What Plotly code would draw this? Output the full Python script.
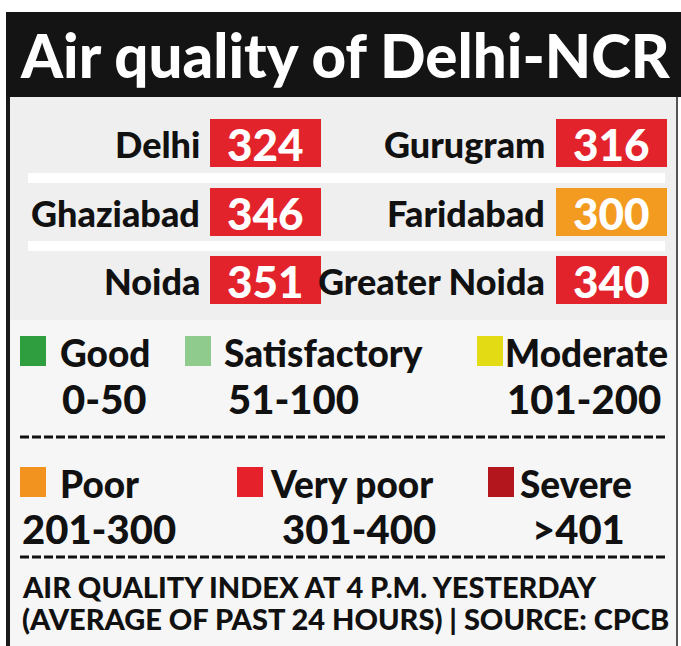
import plotly.graph_objects as go

# ---------------- data ----------------
title_text = "Air quality of Delhi-NCR"
cities = ["Delhi", "Gurugram", "Ghaziabad", "Faridabad", "Noida", "Greater Noida"]
aqi = [324, 316, 346, 300, 351, 340]

cat_names = ["Good", "Satisfactory", "Moderate", "Poor", "Very poor", "Severe"]
cat_ranges = ["0-50", "51-100", "101-200", "201-300", "301-400", ">401"]
cat_upper = [50, 100, 200, 300, 400, 10000]
cat_colors = ["#2f9e3f", "#8fcb8c", "#e3dc14", "#f2921f", "#e5212b", "#b3161d"]

footer_lines = ["AIR QUALITY INDEX AT 4 P.M. YESTERDAY",
                "(AVERAGE OF PAST 24 HOURS) | SOURCE: CPCB"]

# ---------------- layout helpers ----------------
W, H = 681, 646
FONT = "Lato, Roboto, sans-serif"
box_red = "#e3232b"
box_orange = "#f39b20"


def color_for(v):
    for up, c, n in zip(cat_upper, cat_colors, cat_names):
        if v <= up:
            return box_orange if n == "Poor" else (box_red if n == "Very poor" else c)
    return cat_colors[-1]


def f(size, color="#111111"):
    return dict(family=FONT, size=size, color=color, weight=900)


shapes = []
annos = []

# outer frame / backgrounds
shapes.append(dict(type="rect", x0=10, x1=677, y0=97, y1=H, fillcolor="#efefef", line_width=0, layer="below"))
shapes.append(dict(type="rect", x0=10, x1=677, y0=320, y1=H, fillcolor="#f6f6f6", line_width=0, layer="below"))
shapes.append(dict(type="rect", x0=6, x1=W, y0=12, y1=97, fillcolor="#141414", line_width=0))
shapes.append(dict(type="rect", x0=6, x1=10, y0=97, y1=H, fillcolor="#1a1a1a", line_width=0))
shapes.append(dict(type="rect", x0=676, x1=678, y0=97, y1=H, fillcolor="#555555", line_width=0))

annos.append(dict(x=345, y=55, text=title_text, showarrow=False,
                  xanchor="center", yanchor="middle", font=f(60, "white")))

# separators between city rows
row_centers = [143, 212, 280]
for yc in [178, 246]:
    shapes.append(dict(type="rect", x0=28, x1=665, y0=yc - 5, y1=yc + 5, fillcolor="white", line_width=0))

# city rows
col_label_right = [202, 547]
col_box = [(210, 321), (556, 667)]
for i, (city, v) in enumerate(zip(cities, aqi)):
    r, c = divmod(i, 2)
    yc = row_centers[r]
    bx0, bx1 = col_box[c]
    shapes.append(dict(type="rect", x0=bx0, x1=bx1, y0=yc - 24, y1=yc + 24,
                       fillcolor=color_for(v), line_width=0))
    annos.append(dict(x=(bx0 + bx1) / 2, y=yc + 1, text=str(v), showarrow=False,
                      xanchor="center", yanchor="middle", font=f(44, "white")))
    annos.append(dict(x=col_label_right[c], y=yc + 1, text=city, showarrow=False,
                      xanchor="right", yanchor="middle", font=f(36)))

# legend
sq_x = [20, 185, 477, 20, 237, 488]
txt_x = [58, 222, 503, 58, 268, 518]
rng_x = [60, 226, 505, 20, 280, 530]
row_y = [351, 482]
rng_y = [399, 529]
for i in range(6):
    r = i // 3
    yc = row_y[r]
    shapes.append(dict(type="rect", x0=sq_x[i], x1=sq_x[i] + 26, y0=yc - 15, y1=yc + 15,
                       fillcolor=cat_colors[i], line_width=0))
    annos.append(dict(x=txt_x[i], y=yc + 1, text=cat_names[i], showarrow=False,
                      xanchor="left", yanchor="middle", font=f(37)))
    annos.append(dict(x=rng_x[i], y=rng_y[r], text=cat_ranges[i], showarrow=False,
                      xanchor="left", yanchor="middle", font=f(40)))

for yd in [437, 557]:
    shapes.append(dict(type="line", x0=20, x1=667, y0=yd, y1=yd,
                       line=dict(color="#111111", width=3, dash="9px,3px")))

# footer
for k, t in enumerate(footer_lines):
    annos.append(dict(x=20, y=586 + k * 32, text=t, showarrow=False,
                      xanchor="left", yanchor="middle", font=f(29)))

fig = go.Figure()
fig.add_trace(go.Scatter(x=[0, W], y=[0, H], mode="markers", marker=dict(opacity=0),
                         hoverinfo="skip", showlegend=False))
fig.update_layout(
    width=W, height=H, margin=dict(l=0, r=0, t=0, b=0),
    paper_bgcolor="white", plot_bgcolor="white",
    xaxis=dict(range=[0, W], visible=False, fixedrange=True),
    yaxis=dict(range=[H, 0], visible=False, fixedrange=True),
    shapes=shapes, annotations=annos, showlegend=False,
)
fig.write_html("out.html", config={"displayModeBar": False},
               post_script="document.body.style.margin='0';document.body.style.overflow='hidden';")
